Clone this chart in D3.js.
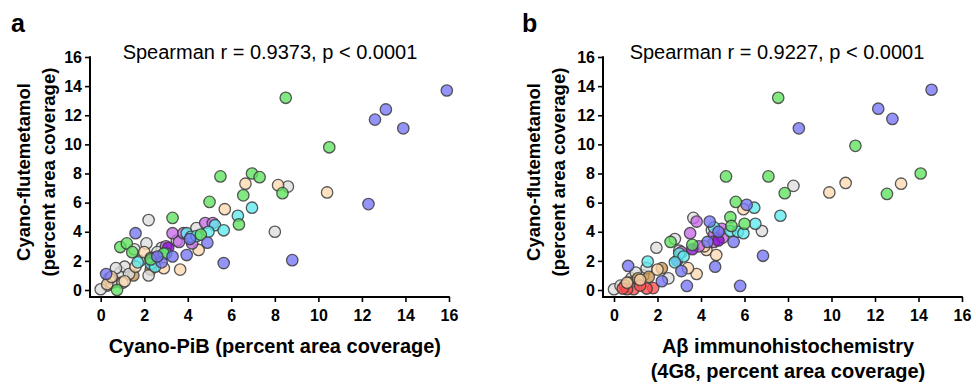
<!DOCTYPE html>
<html><head><meta charset="utf-8">
<script src="https://cdn.jsdelivr.net/npm/d3@7"></script>
<style>body{margin:0;background:#fff}svg{display:block}</style>
</head><body><svg id="c" width="976" height="384"></svg>
<script>
// ---- data ----
const ticks = [0,2,4,6,8,10,12,14,16];
const colorKeys = ["blue","green","peach","gray","cyan","magenta","purple","red","brown"];
const colorValues = ["#7676f6","#5fe35f","#fcd9ae","#dedede","#5ee9ee","#c66be8","#8a10d0","#ff4c4c","#c8944e"];

// panel a: [Cyano-PiB, Cyano-flutemetamol, group]
const pibPoints = [
 [0.3,0.3,"brown"],[0.5,0.7,"brown"],[0.7,0.6,"brown"],[1.5,1.0,"brown"],[2.3,1.4,"brown"],
 [0.0,0.05,"gray"],[0.5,0.5,"gray"],[0.9,1.2,"gray"],[1.1,1.6,"gray"],[1.3,1.1,"gray"],[0.4,0.8,"gray"],
 [2.8,2.9,"gray"],[3.5,3.4,"gray"],[1.8,2.0,"gray"],[1.0,0.5,"gray"],[0.7,1.5,"gray"],[1.55,2.8,"gray"],
 [8.6,7.1,"gray"],[8.0,4.0,"gray"],[2.2,4.8,"gray"],[4.4,4.25,"gray"],[2.1,3.2,"gray"],[2.6,2.6,"gray"],[2.2,1.0,"gray"],
 [0.3,0.4,"peach"],[0.5,0.9,"peach"],[1.1,0.6,"peach"],[2.0,2.6,"peach"],[2.3,2.2,"peach"],[1.6,1.6,"peach"],
 [10.4,6.7,"peach"],[8.15,7.2,"peach"],[6.65,7.3,"peach"],[5.7,5.55,"peach"],[4.5,2.75,"peach"],[3.65,1.4,"peach"],[2.9,1.5,"peach"],
 [4.8,4.6,"magenta"],[5.15,4.6,"magenta"],[3.3,3.9,"magenta"],[3.0,3.0,"magenta"],[3.6,3.3,"magenta"],[4.2,3.2,"magenta"],[2.5,2.2,"magenta"],[3.8,3.9,"magenta"],
 [2.3,2.0,"purple"],[3.1,2.9,"purple"],
 [6.95,5.65,"cyan"],[6.3,5.1,"cyan"],[5.25,4.45,"cyan"],[4.95,4.0,"cyan"],[5.65,4.1,"cyan"],[3.95,3.9,"cyan"],[4.15,3.65,"cyan"],
 [3.0,2.5,"cyan"],[1.7,1.9,"cyan"],[2.3,1.8,"cyan"],[4.4,3.7,"cyan"],[2.5,1.6,"cyan"],
 [8.5,13.2,"green"],[10.5,9.8,"green"],[5.5,7.8,"green"],[6.95,8.0,"green"],[7.3,7.75,"green"],[6.55,6.5,"green"],[8.35,6.65,"green"],
 [5.0,6.05,"green"],[6.35,4.5,"green"],[3.3,4.95,"green"],[0.9,2.95,"green"],[1.2,3.2,"green"],[4.6,3.8,"green"],[1.45,2.6,"green"],
 [0.75,0.0,"green"],[2.3,2.1,"green"],[2.9,2.5,"green"],
 [15.9,13.7,"blue"],[13.1,12.4,"blue"],[12.6,11.7,"blue"],[13.9,11.1,"blue"],[12.3,5.9,"blue"],[8.8,2.05,"blue"],[4.9,3.25,"blue"],
 [3.95,2.4,"blue"],[5.65,1.85,"blue"],[1.6,3.9,"blue"],[0.25,1.1,"blue"],[2.8,1.9,"blue"],[2.6,2.3,"blue"],[3.3,2.3,"blue"],[4.1,3.5,"blue"]
];

// panel b: [Aβ 4G8, Cyano-flutemetamol, group]
const ihcPoints = [
 [0.0,0.05,"gray"],[1.35,1.0,"gray"],[2.8,3.5,"gray"],[0.8,0.8,"gray"],[1.5,1.5,"gray"],[2.5,0.8,"gray"],[0.3,0.3,"gray"],
 [4.5,4.1,"gray"],[1.0,1.2,"gray"],[3.0,2.7,"gray"],[8.25,7.15,"gray"],[6.8,4.05,"gray"],[3.65,4.95,"gray"],[1.95,2.9,"gray"],
 [0.7,0.5,"brown"],[1.1,0.8,"brown"],[2.2,1.5,"brown"],[1.6,0.9,"brown"],[0.5,0.3,"brown"],
 [1.8,0.13,"red"],[1.5,0.1,"red"],[0.9,0.05,"red"],[0.6,0.05,"red"],[1.2,0.3,"red"],[0.4,0.1,"red"],
 [13.2,7.3,"peach"],[10.65,7.35,"peach"],[9.9,6.7,"peach"],[5.95,5.55,"peach"],[4.25,2.75,"peach"],[4.7,2.4,"peach"],
 [3.8,1.1,"peach"],[3.4,1.5,"peach"],[2.0,1.4,"peach"],[1.2,0.7,"peach"],[0.6,0.5,"peach"],[4.15,3.0,"peach"],
 [3.8,4.7,"magenta"],[3.5,3.9,"magenta"],[4.6,3.8,"magenta"],[3.9,3.0,"magenta"],[4.6,3.3,"magenta"],[5.0,3.6,"magenta"],[4.95,4.2,"magenta"],[3.1,2.6,"magenta"],
 [3.6,2.8,"purple"],[4.8,3.4,"purple"],[2.9,2.0,"purple"],
 [6.45,5.65,"cyan"],[7.65,5.1,"cyan"],[6.5,4.55,"cyan"],[5.35,4.05,"cyan"],[5.7,4.0,"cyan"],[5.95,3.9,"cyan"],[1.55,1.95,"cyan"],
 [3.0,2.5,"cyan"],[3.2,2.3,"cyan"],[2.8,1.9,"cyan"],[4.6,4.3,"cyan"],
 [7.55,13.2,"green"],[11.1,9.9,"green"],[14.1,8.0,"green"],[12.55,6.6,"green"],[7.85,6.65,"green"],[5.15,7.8,"green"],[7.1,7.8,"green"],
 [5.6,6.05,"green"],[5.35,5.0,"green"],[6.0,4.55,"green"],[2.6,3.3,"green"],[3.6,3.1,"green"],[5.4,4.4,"green"],
 [14.6,13.75,"blue"],[12.15,12.45,"blue"],[12.8,11.75,"blue"],[8.5,11.1,"blue"],[6.1,5.85,"blue"],[5.5,3.3,"blue"],[6.85,2.35,"blue"],
 [5.8,0.28,"blue"],[3.35,0.28,"blue"],[4.65,1.6,"blue"],[4.4,4.7,"blue"],[0.65,1.65,"blue"],[2.2,0.6,"blue"],[4.3,3.3,"blue"],[3.1,1.3,"blue"],[4.8,4.0,"blue"]
];

const panelLetters = ["a","b"];
const statTexts = ["Spearman r = 0.9373, p < 0.0001","Spearman r = 0.9227, p < 0.0001"];
const yTitle = ["Cyano-flutemetamol","(percent area coverage)"];
const xTitles = [["Cyano-PiB (percent area coverage)"],["Aβ immunohistochemistry","(4G8, percent area coverage)"]];

// ---- drawing ----
const svg = d3.select("#c");
const color = d3.scaleOrdinal().domain(colorKeys).range(colorValues);
const FONT = "'Liberation Sans', Arial, Helvetica, sans-serif";

const panels = [
  {pts: pibPoints, axX: 90, x0: 100.7, x1: 449, letterX: 11, yTitleX: 30, statX: 270},
  {pts: ihcPoints, axX: 603, x0: 614, x1: 962, letterX: 522, yTitleX: 540, statX: 777}
];
const yTop = 57, yZero = 290, axY = 297;

panels.forEach((p, i) => {
  const x = d3.scaleLinear().domain([0,16]).range([p.x0, p.x1]);
  const y = d3.scaleLinear().domain([0,16]).range([yZero, yTop]);
  const g = svg.append("g");

  // points
  g.append("g").selectAll("circle").data(p.pts).join("circle")
    .attr("cx", d => x(d[0])).attr("cy", d => y(d[1])).attr("r", 5.7)
    .attr("fill", d => color(d[2])).attr("fill-opacity", 0.78)
    .attr("stroke", "#3c3c3c").attr("stroke-width", 1.3).attr("stroke-opacity", 0.85);

  // y axis
  const ya = g.append("g").attr("transform", `translate(${p.axX},0)`)
    .call(d3.axisLeft(y).tickValues(ticks).tickSize(5).tickPadding(3).tickFormat(d3.format("d")));
  ya.select(".domain").remove();
  ya.selectAll(".tick line").attr("stroke", "#000").attr("stroke-width", 1.6);
  ya.selectAll(".tick text").attr("font-family", FONT).attr("font-weight", "bold").attr("font-size", 16).attr("fill", "#000");

  // x axis
  const xa = g.append("g").attr("transform", `translate(0,${axY})`)
    .call(d3.axisBottom(x).tickValues(ticks).tickSize(5).tickPadding(8).tickFormat(d3.format("d")));
  xa.select(".domain").remove();
  xa.selectAll(".tick line").attr("stroke", "#000").attr("stroke-width", 1.6);
  xa.selectAll(".tick text").attr("font-family", FONT).attr("font-weight", "bold").attr("font-size", 16).attr("fill", "#000");

  // axis lines
  g.append("path").attr("d", `M${p.axX},${y(16)-0.8}V${axY}H${x(16)+0.8}`)
    .attr("fill", "none").attr("stroke", "#000").attr("stroke-width", 2);

  // panel letter
  g.append("text").attr("x", p.letterX).attr("y", 32).text(panelLetters[i])
    .attr("font-family", FONT).attr("font-weight", "bold").attr("font-size", 25);

  // stat text
  g.append("text").attr("x", p.statX).attr("y", 59).attr("text-anchor", "middle")
    .text(statTexts[i]).attr("font-family", FONT).attr("font-size", 20);

  // y title
  yTitle.forEach((t, k) => {
    g.append("text").attr("transform", `translate(${p.yTitleX + k*25},172) rotate(-90)`)
      .attr("text-anchor", "middle").text(t)
      .attr("font-family", FONT).attr("font-weight", "bold").attr("font-size", 18.5);
  });

  // x title
  xTitles[i].forEach((t, k) => {
    g.append("text").attr("x", (p.x0 + p.x1)/2).attr("y", 353 + k*25).attr("text-anchor", "middle").text(t)
      .attr("font-family", FONT).attr("font-weight", "bold").attr("font-size", 20);
  });
});
</script></body></html>
